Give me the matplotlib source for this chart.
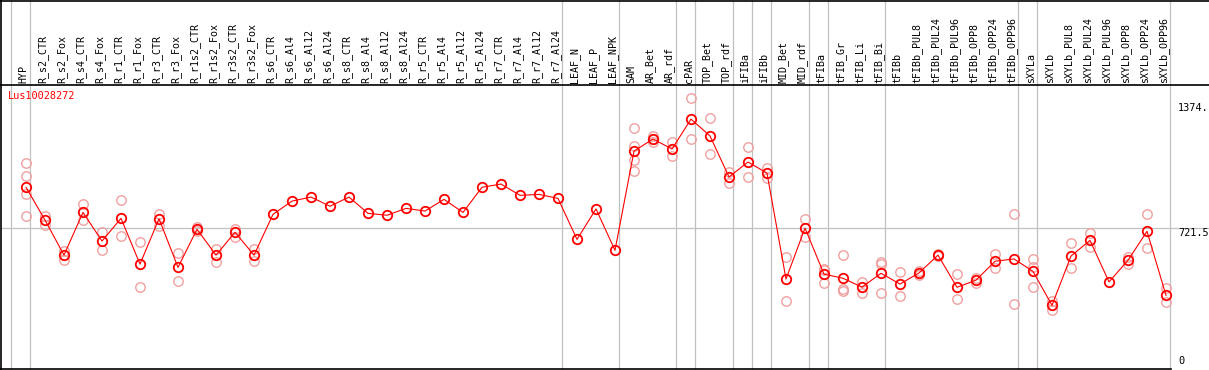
import numpy as np
import matplotlib
matplotlib.use("Agg")
import matplotlib.pyplot as plt
from matplotlib.lines import Line2D
from matplotlib.transforms import blended_transform_factory

#%% data
gene = "Lus10028272"

samples = ["HYP", "R_s2_CTR", "R_s2_Fox", "R_s4_CTR", "R_s4_Fox", "R_r1_CTR", "R_r1_Fox",
           "R_r3_CTR", "R_r3_Fox", "R_r1s2_CTR", "R_r1s2_Fox", "R_r3s2_CTR", "R_r3s2_Fox",
           "R_s6_CTR", "R_s6_Al4", "R_s6_Al12", "R_s6_Al24", "R_s8_CTR", "R_s8_Al4",
           "R_s8_Al12", "R_s8_Al24", "R_r5_CTR", "R_r5_Al4", "R_r5_Al12", "R_r5_Al24",
           "R_r7_CTR", "R_r7_Al4", "R_r7_Al12", "R_r7_Al24", "LEAF_N", "LEAF_P", "LEAF_NPK",
           "SAM", "AR_Bet", "AR_rdf", "cPAR", "TOP_Bet", "TOP_rdf", "iFIBa", "iFIBb",
           "MID_Bet", "MID_rdf", "tFIBa", "tFIB_Gr", "tFIB_Li", "tFIB_Bi", "tFIBb",
           "tFIBb_PUL8", "tFIBb_PUL24", "tFIBb_PUL96", "tFIBb_OPP8", "tFIBb_OPP24",
           "tFIBb_OPP96", "sXYLa", "sXYLb", "sXYLb_PUL8", "sXYLb_PUL24", "sXYLb_PUL96",
           "sXYLb_OPP8", "sXYLb_OPP24", "sXYLb_OPP96"]

means = [934, 763, 580, 803, 653, 772, 533, 770, 516, 715, 580, 699, 580,
         793, 862, 883, 835, 883, 798, 788, 824, 810, 871, 803, 934, 951, 892, 897, 876,
         662, 821, 605,
         1123, 1186, 1134, 1290, 1202, 988, 1066, 1008, 455, 721,
         481, 459, 413, 485, 429, 487, 580, 412, 449, 548, 560,
         495, 318, 575, 657, 440, 553, 704, 370]

replicates = [
    [1063, 992, 899, 783],   # HYP
    [784, 737], [603, 554], [847, 763], [699, 607],
    [868, 678], [650, 412], [796, 733], [589, 443],
    [728, 707], [612, 542], [716, 676], [612, 551],
    [], [], [], [], [], [], [], [], [], [], [], [], [], [], [], [],   # R_s6_CTR .. R_r7_Al24
    [], [], [],              # LEAF
    [1243, 1149, 1075, 1019],  # SAM
    [1203, 1186, 1169], [1169, 1096], [1398, 1186], [1297, 1108], [1012, 955],
    [1146, 986], [1036, 981], [570, 340], [768, 673],
    [506, 500, 432], [580, 401, 394], [441, 380], [545, 532, 380],
    [490, 366], [497, 478], [585, 575], [480, 349], [462, 436], [586, 513], [794, 325],
    [560, 516, 412], [340, 293], [641, 511], [694, 621], [], [572, 532], [794, 615],
    [407, 334],
]

# last sample index of each tissue group (grey separators)
group_ends = [-1, 0, 28, 31, 34, 35, 37, 38, 39, 41, 42, 45, 52, 53, 60]

y_ticks = [1374, 721.5, 0]
y_tick_labels = ["1374.", "721.5", "0"]

#%% layout in pixels
W, H = 1209, 370
left_px, right_px = 1, 1171
top_px, bottom_px = 85, 369
x0_px, step_px = 26, 19

def fx(px):
    return px / W

def fy(py):
    return 1 - py / H

fig = plt.figure(figsize=(W / 100, H / 100), dpi=100)
fig.patch.set_facecolor("white")
ax = fig.add_axes([fx(left_px), fy(bottom_px), fx(right_px - left_px), (bottom_px - top_px) / H])
ax.set_axis_off()

x = np.arange(len(samples))
ax.set_xlim((left_px - x0_px) / step_px, (right_px - x0_px) / step_px)
ax.set_ylim(-14.5, 1468)

grey = "#c0c0c0"
red = "#ff0000"
pink = "#f0a0a0"
mono = "DejaVu Sans Mono"

# grey separators run through header too
top_frac = bottom_px / (bottom_px - top_px)
for g in group_ends:
    ax.axvline(g + 4.5 / step_px, ymin=0, ymax=top_frac, color=grey, lw=0.9,
               clip_on=False, zorder=1)
ax.axhline(y_ticks[1], xmin=0, xmax=(W - left_px) / (right_px - left_px), color=grey,
           lw=0.9, clip_on=False, zorder=1)

# replicate points
for i, reps in enumerate(replicates):
    if reps:
        ax.plot([i] * len(reps), reps, "o", ms=6.8, mfc="none", mec=pink, mew=1.0,
                clip_on=False, zorder=2)

ax.plot(x, means, "-", color=red, lw=0.8, zorder=3)
ax.plot(x, means, "o", ms=6.8, mfc="none", mec=red, mew=1.3, zorder=4, clip_on=False)

# sample labels in the header
trans = blended_transform_factory(ax.transData, ax.transAxes)
for i, s in enumerate(samples):
    ax.text(i - 0.13, 1 + 2 / (bottom_px - top_px), s, transform=trans, rotation=90,
            ha="center", va="bottom", fontsize=7.2, family=mono, color="black")

# right-side value labels
trans_r = blended_transform_factory(ax.transAxes, ax.transData)
xr = (1178 - left_px) / (right_px - left_px)
for v, lab in zip(y_ticks, y_tick_labels):
    ax.text(xr, v, lab, transform=trans_r, ha="left", va="bottom" if v == 0 else "top",
            fontsize=7.4, family=mono, color="black")

fig.text(fx(8), fy(91), gene, ha="left", va="top", fontsize=7.4, family=mono, color=red)

# black frame lines
def hline(py, x1, x2):
    fig.add_artist(Line2D([fx(x1), fx(x2)], [fy(py), fy(py)], color="black", lw=1.2))

def vline(px, y1, y2):
    fig.add_artist(Line2D([fx(px), fx(px)], [fy(y1), fy(y2)], color="black", lw=1.2))

hline(0.5, 0, W)
hline(top_px, 0, W)
hline(bottom_px, 0, right_px)
vline(1, 0, H)

fig.savefig("out.png", dpi=100)
